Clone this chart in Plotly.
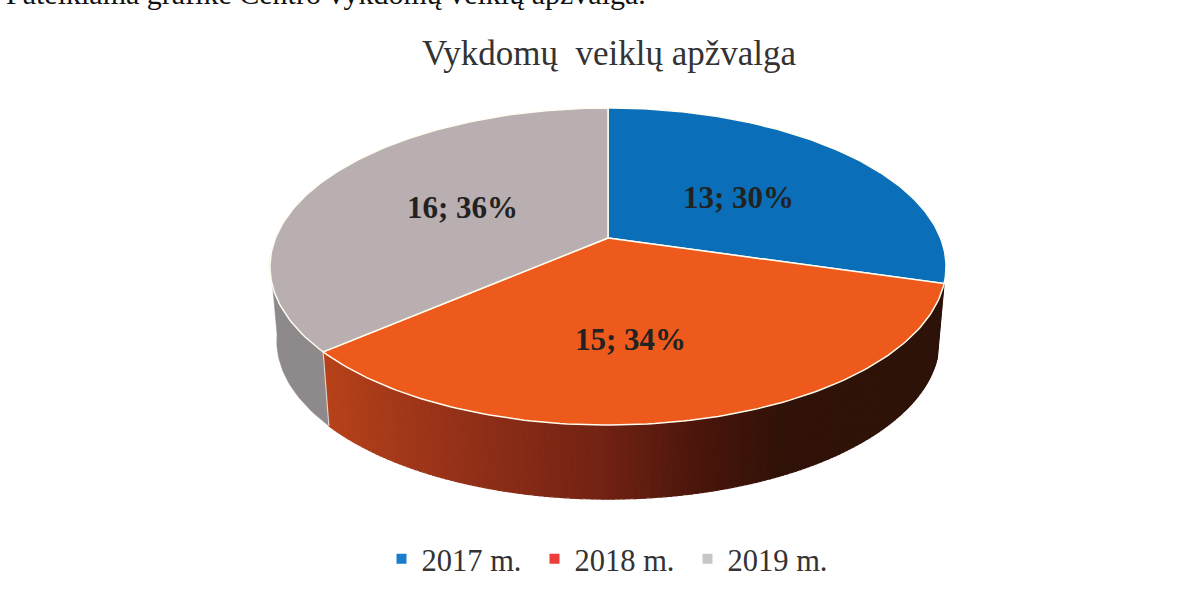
import numpy as np
import plotly.graph_objects as go

# Data
categories = ["2017 m.", "2018 m.", "2019 m."]
values = [13, 15, 16]
percent_labels = ["30%", "34%", "36%"]
title_text = "Vykdomų  veiklų apžvalga"
caption_text = "Pateikiama grafike Centro vykdomų veiklų apžvalga."

# Styles
face_colors = ["#0a6fb8", "#ee5a1c", "#b9afb1"]
legend_colors = ["#1a7ccc", "#ee3d38", "#c9c6c6"]
WALL_X = [327, 450, 600, 700, 780, 945]
WALL_R = [182, 150, 115, 75, 50, 45]
WALL_G = [66, 50, 35, 22, 18, 20]
WALL_B = [26, 25, 20, 12, 8, 10]

# Projection of the tilted pie onto the page (pixel axes)
CX, CY = 608.0, 238.0
K, AY, BX = 0.18, 153.4, 332.5
DEPTH, BASE_SCALE = 74.0, 0.98
FONT = "Liberation Serif"


def project(theta_deg, r=1.0):
    t = np.radians(theta_deg)
    u, v = r * np.sin(t), r * np.cos(t)
    den = 1 + K * v
    return CX + BX * u / den, CY - AY * v / den


def base(theta_deg):
    x, y = project(theta_deg)
    return CX + (x - CX) * BASE_SCALE, y + DEPTH


total = sum(values)
edges = np.cumsum([0] + values) / total * 360.0

fig = go.Figure()


def polygon(xs, ys, fill, line_color, line_width):
    fig.add_trace(go.Scatter(x=xs, y=ys, mode="lines", fill="toself", fillcolor=fill,
                             line=dict(color=line_color, width=line_width),
                             hoverinfo="skip", showlegend=False))


# Side wall: gray part on the left
xg1, yg1 = project(np.linspace(edges[2], 262, 30))
xg2, yg2 = base(np.linspace(262, edges[2], 30))
polygon(np.r_[xg1, xg2, xg1[0]], np.r_[yg1, yg2, yg1[0]], "#8e898b", "#8e898b", 0.5)

# Side wall: orange part with the dark shading to the right
ang = np.linspace(edges[1], edges[2], 161)
for a, b in zip(ang[:-1], ang[1:]):
    ts = np.array([a, b])
    x1, y1 = project(ts)
    x2, y2 = base(ts[::-1])
    xm = x1.mean()
    c = "rgb(%d,%d,%d)" % (np.interp(xm, WALL_X, WALL_R),
                           np.interp(xm, WALL_X, WALL_G),
                           np.interp(xm, WALL_X, WALL_B))
    polygon(np.r_[x1, x2, x1[0]], np.r_[y1, y2, y1[0]], c, c, 1.2)

# Divider on the wall between gray and orange
xa, ya = project(edges[2])
xb, yb = base(edges[2])
fig.add_trace(go.Scatter(x=[xa, xb], y=[ya, yb], mode="lines",
                         line=dict(color="#d8d8d8", width=1.2),
                         hoverinfo="skip", showlegend=False))

# Top faces
for i in range(3):
    ts = np.linspace(edges[i], edges[i + 1], 120)
    x, y = project(ts)
    polygon(np.r_[CX, x, CX], np.r_[CY, y, CY], face_colors[i], "#fffdf0", 1.5)

# Legend entries
for name, col in zip(categories, legend_colors):
    fig.add_trace(go.Scatter(x=[None], y=[None], mode="markers", name=name,
                             marker=dict(symbol="square", size=10, color=col)))

# Data labels
label_r = [0.5, 0.5, 0.5]
label_shift = [(4, 3), (-16, 19), (0, 0)]
mids = (edges[:-1] + edges[1:]) / 2
for i in range(3):
    lx, ly = project(mids[i], label_r[i])
    fig.add_annotation(x=lx, y=ly, xref="x", yref="y", showarrow=False,
                       xshift=label_shift[i][0], yshift=-label_shift[i][1],
                       text="<b>%d; %s</b>" % (values[i], percent_labels[i]),
                       font=dict(family=FONT, size=31, color="#222222"))

# Clipped line of body text at the top of the scan
fig.add_annotation(x=4, y=12, xref="x", yref="y", xanchor="left", yanchor="bottom",
                   showarrow=False, text=caption_text,
                   font=dict(family=FONT, size=30, color="#111111"))

fig.update_layout(
    width=1192, height=597, margin=dict(l=0, r=0, t=0, b=0),
    paper_bgcolor="#ffffff", plot_bgcolor="#ffffff",
    title=dict(text=title_text, x=609 / 1192, y=1 - 53 / 597, xref="paper", yref="paper",
               xanchor="center", yanchor="middle",
               font=dict(family=FONT, size=35, color="#333333")),
    xaxis=dict(range=[0, 1192], visible=False, fixedrange=True),
    yaxis=dict(range=[597, 0], visible=False, fixedrange=True),
    legend=dict(orientation="h", x=611 / 1192, y=1 - 559 / 597, xanchor="center", yanchor="middle",
                font=dict(family=FONT, size=30.5, color="#333333"),
                entrywidth=108, entrywidthmode="pixels", itemwidth=30,
                bgcolor="rgba(0,0,0,0)"),
    showlegend=True,
)

fig.write_html("out.html", config=dict(displayModeBar=False),
               post_script="document.body.style.margin='0';")
